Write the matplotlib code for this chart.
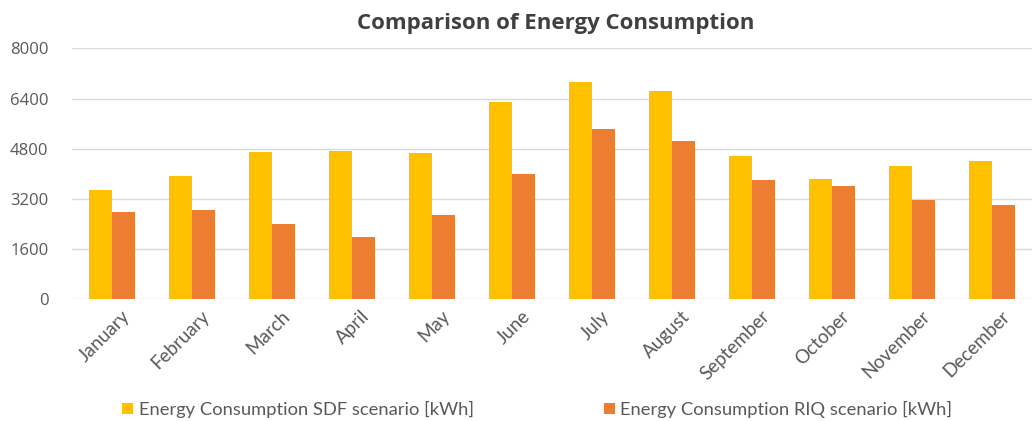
import matplotlib
matplotlib.use("Agg")
import matplotlib.pyplot as plt
import matplotlib.transforms as mtransforms
import numpy as np

months = ["January", "February", "March", "April", "May", "June", "July",
          "August", "September", "October", "November", "December"]
sdf = [3480, 3930, 4690, 4720, 4650, 6280, 6920, 6650, 4570, 3840, 4250, 4410]
riq = [2790, 2840, 2400, 2000, 2690, 3990, 5420, 5050, 3790, 3600, 3170, 3010]
yticks = [0, 1600, 3200, 4800, 6400, 8000]
title = "Comparison of Energy Consumption"
labels = ["Energy Consumption SDF scenario [kWh]", "Energy Consumption RIQ scenario [kWh]"]

fig = plt.figure(figsize=(10.35, 4.21), dpi=100)
ax = fig.add_axes([0.0696, 0.289, 0.9275, 0.596])

x = np.arange(len(months))
w = 0.286
b1 = ax.bar(x - w / 2, sdf, w, color="#FFC000", label=labels[0], zorder=3)
b2 = ax.bar(x + w / 2, riq, w, color="#ED7D31", label=labels[1], zorder=3)

ax.set_xlim(-0.5, len(months) - 0.5)
ax.set_ylim(0, 8000)
ax.set_yticks(yticks)
ax.set_yticklabels([str(v) for v in yticks], fontsize=12, color="#595959", family="Open Sans")
ax.grid(axis="y", color="#D9D9D9", linewidth=1, zorder=0)
for s in ax.spines.values():
    s.set_visible(False)
ax.tick_params(axis="both", length=0)
ax.tick_params(axis="y", pad=17)

ax.set_xticks(x)
ax.set_xticklabels(months, rotation=45, ha="right", rotation_mode="anchor",
                   fontsize=13.5, color="#595959", family="Lato")
ax.tick_params(axis="x", pad=6)
offset = mtransforms.ScaledTranslation(9 / 100, 0, fig.dpi_scale_trans)
for lab in ax.get_xticklabels():
    lab.set_transform(lab.get_transform() + offset)

fig.text(0.537, 0.943, title, ha="center", va="center", fontsize=16,
         fontweight="bold", color="#404040", family="Open Sans")

leg = fig.legend(handles=[b1, b2], labels=labels, loc="center", bbox_to_anchor=(0.519, 0.027),
                 ncol=2, frameon=False, handlelength=0.6, handleheight=0.6,
                 handletextpad=0.3, columnspacing=7.1,
                 prop={"family": "Lato", "size": 13.2})
for t in leg.get_texts():
    t.set_color("#595959")

fig.savefig("out.png", dpi=100)
